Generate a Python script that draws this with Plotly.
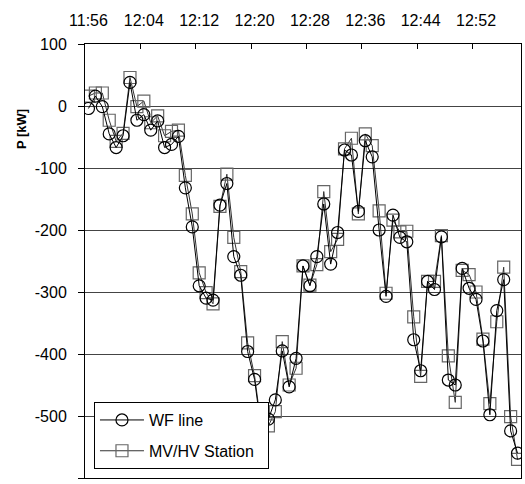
import plotly.graph_objects as go

# time categories (1-minute samples starting 11:56)
n_points = 63
minutes = list(range(n_points))
tick_labels = ["11:56", "12:04", "12:12", "12:20", "12:28", "12:36", "12:44", "12:52"]
tick_positions = [0, 8, 16, 24, 32, 40, 48, 56]
y_ticks = [100, 0, -100, -200, -300, -400, -500, -600]
y_tick_labels = ["100", "0", "-100", "-200", "-300", "-400", "-500", "-600"]

wf_line = [-4, 16, -1, -45, -67, -48, 38, -23, -14, -39,
           -24, -67, -62, -49, -132, -195, -290, -310, -313, -160,
           -125, -243, -273, -396, -441, -525, -505, -474, -395, -453,
           -407, -258, -290, -243, -158, -255, -204, -71, -79, -170,
           -56, -82, -200, -307, -176, -212, -219, -377, -427, -283,
           -296, -211, -442, -450, -262, -294, -312, -379, -498, -330,
           -280, -524, -560]

mvhv_station = [16, 21, 21, -23, -57, -44, 46, -1, 8, -27,
                -16, -48, -41, -39, -112, -174, -269, -301, -319, -162,
                -110, -212, -267, -382, -435, -520, -516, -493, -380, -450,
                -423, -258, -289, -256, -138, -235, -215, -69, -52, -174,
                -45, -64, -169, -302, -184, -203, -202, -340, -436, -283,
                -283, -209, -403, -478, -265, -272, -300, -376, -480, -348,
                -260, -501, -570]

FONT = "Liberation Sans, Arial, sans-serif"

fig = go.Figure()
fig.add_trace(go.Scatter(
    x=minutes, y=mvhv_station, mode="lines+markers", name="MV/HV Station  ",
    line=dict(color="#333333", width=1),
    marker=dict(symbol="square-open", size=12, color="#666666", line=dict(width=1.2)),
    legendrank=2, legendgroup="b",
))
fig.add_trace(go.Scatter(
    x=minutes, y=wf_line, mode="lines+markers", name="WF line",
    line=dict(color="#000000", width=1),
    marker=dict(symbol="circle-open", size=12, color="#000000", line=dict(width=1.2)),
    legendrank=1, legendgroup="a",
))

fig.update_layout(
    width=525, height=484,
    margin=dict(l=85, r=4, t=44, b=6),
    paper_bgcolor="white", plot_bgcolor="white",
    font=dict(family=FONT, size=16, color="#000"),
    showlegend=True,
    legend=dict(
        x=0.0206, y=0.175, xanchor="left", yanchor="top",
        bgcolor="white", bordercolor="#000", borderwidth=1,
        font=dict(family=FONT, size=16, color="#000"),
        tracegroupgap=7, itemwidth=44,
    ),
    xaxis=dict(
        side="top", range=[-0.5, 62.5],
        tickmode="array", tickvals=tick_positions, ticktext=tick_labels,
        ticks="", showgrid=False, zeroline=False,
        showline=True, linecolor="#000", linewidth=1, mirror=True,
        ticklabelstandoff=11,
        minor=dict(tickmode="array", tickvals=[p + 7.5 for p in tick_positions[:-1]],
                   ticks="inside", ticklen=5, tickcolor="#000", showgrid=False),
    ),
    yaxis=dict(
        range=[-600, 100], tickmode="array", tickvals=y_ticks, ticktext=y_tick_labels,
        ticks="outside", ticklen=6, tickcolor="#000",
        showgrid=True, gridcolor="#444444", gridwidth=1, zeroline=False,
        showline=True, linecolor="#000", linewidth=1, mirror=True,
        ticklabelstandoff=8,
    ),
    annotations=[dict(
        text="<b>P [kW]</b>", textangle=-90, showarrow=False,
        xref="paper", yref="paper", x=-0.1468, y=0.804,
        xanchor="center", yanchor="middle",
        font=dict(family=FONT, size=13, color="#000"),
    )],
)

fig.write_html("out.html")
